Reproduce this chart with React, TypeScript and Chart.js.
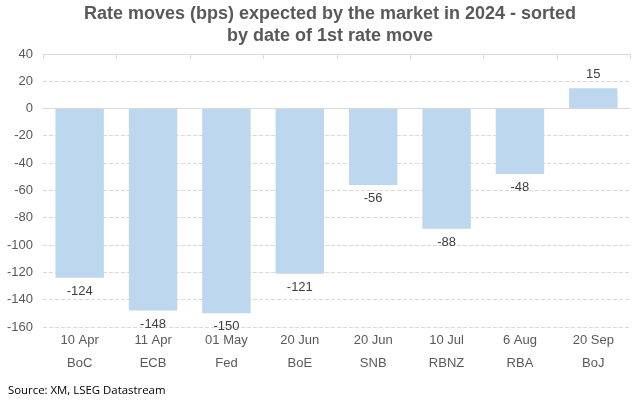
import React, { useEffect, useRef } from "react";
import { Chart, registerables } from "chart.js";

Chart.register(...registerables);

const dates = ["10 Apr", "11 Apr", "01 May", "20 Jun", "20 Jun", "10 Jul", "6 Aug", "20 Sep"];
const banks = ["BoC", "ECB", "Fed", "BoE", "SNB", "RBNZ", "RBA", "BoJ"];
const rateMoves = [-124, -148, -150, -121, -56, -88, -48, 15];
const titleLines = ["Rate moves (bps) expected by the market in 2024 - sorted", "by date of 1st rate move"];
const sourceText = "Source: XM, LSEG Datastream";

const FONT = "'Liberation Sans', Arial, sans-serif";

export default function App() {
  const ref = useRef<HTMLCanvasElement | null>(null);

  useEffect(() => {
    if (!ref.current) return;
    const labelsPlugin = {
      id: "customDraw",
      afterDatasetsDraw(chart: any) {
        const ctx = chart.ctx;
        const meta = chart.getDatasetMeta(0);
        ctx.save();
        ctx.font = `13px ${FONT}`;
        ctx.fillStyle = "#404040";
        ctx.textAlign = "center";
        ctx.textBaseline = "middle";
        meta.data.forEach((el: any, i: number) => {
          const v = rateMoves[i];
          const y = v < 0 ? el.y + 13.5 : el.y - 13.5;
          ctx.fillText(String(v), el.x, y);
        });
        ctx.restore();
      },
      afterDraw(chart: any) {
        const ctx = chart.ctx;
        const a = chart.chartArea;
        ctx.save();
        ctx.strokeStyle = "#d9d9d9";
        ctx.lineWidth = 1;
        const n = banks.length;
        const w = (a.right - a.left) / n;
        for (let i = 0; i <= n; i++) {
          const x = Math.round(a.left + i * w) + 0.5;
          ctx.beginPath();
          ctx.moveTo(x, a.top);
          ctx.lineTo(x, a.top + 5);
          ctx.stroke();
        }
        // title
        ctx.font = `bold 18px ${FONT}`;
        ctx.fillStyle = "#595959";
        ctx.textAlign = "center";
        ctx.textBaseline = "middle";
        titleLines.forEach((t, i) => ctx.fillText(t, 330, 14 + i * 22));
        // source
        ctx.font = `11.4px 'Open Sans', sans-serif`;
        ctx.fillStyle = "#000000";
        ctx.textAlign = "left";
        ctx.fillText(sourceText, 8, 391);
        ctx.restore();
      },
    };

    const chart = new Chart(ref.current, {
      type: "bar",
      data: {
        labels: dates.map((d, i) => [d, banks[i]]),
        datasets: [
          {
            data: rateMoves,
            backgroundColor: "#BDD7EE",
            borderWidth: 0,
            barPercentage: 0.66,
            categoryPercentage: 1,
          },
        ],
      },
      options: {
        animation: false,
        responsive: false,
        maintainAspectRatio: false,
        layout: { padding: { left: 0, right: 14, top: 54, bottom: 0 } },
        plugins: {
          legend: { display: false },
          tooltip: { enabled: false },
          title: { display: false },
        },
        scales: {
          x: {
            grid: { display: false },
            border: { display: false },
            ticks: {
              color: "#595959",
              font: { family: FONT, size: 13, lineHeight: 1.77 },
              padding: -6,
              maxRotation: 0,
              autoSkip: false,
            },
            afterFit(scale: any) {
              scale.height = 77;
            },
          },
          y: {
            min: -160,
            max: 40,
            grid: {
              color: "#d9d9d9",
              drawTicks: false,
              lineWidth: 1,
            },
            border: {
              display: false,
              dash: (ctx: any) =>
                ctx.tick && (ctx.tick.value === 0 || ctx.tick.value === 40) ? [] : [4, 2],
            },
            ticks: {
              stepSize: 20,
              color: "#595959",
              font: { family: FONT, size: 13 },
              padding: 10,
            },
            afterFit(scale: any) {
              scale.width = 43;
            },
          },
        },
      },
      plugins: [labelsPlugin],
    } as any);
    return () => chart.destroy();
  }, []);

  return (
    <div style={{ position: "absolute", left: 0, top: 0, width: 644, height: 404, background: "#fff" }}>
      <canvas ref={ref} width={644} height={404} style={{ width: 644, height: 404 }} />
    </div>
  );
}
